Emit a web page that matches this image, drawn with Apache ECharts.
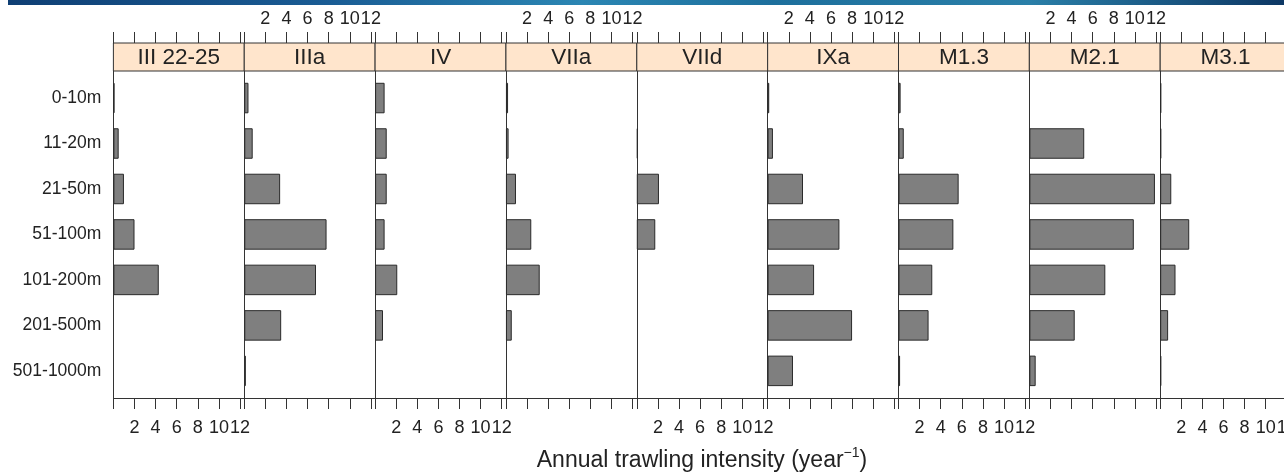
<!DOCTYPE html>
<html><head><meta charset="utf-8">
<script src="https://cdn.jsdelivr.net/npm/echarts@6/dist/echarts.min.js"></script>
<style>html,body{margin:0;padding:0;background:#fff}#c{width:1284px;height:474px}</style>
</head><body><div id="c"></div>
<script>
// ---- data ----
const depths = ['0-10m','11-20m','21-50m','51-100m','101-200m','201-500m','501-1000m'];
const regions = ['III 22-25','IIIa','IV','VIIa','VIId','IXa','M1.3','M2.1','M3.1'];
const tickLabels = [2,4,6,8,10,12];
const v_III2225 = [0.1,0.5,1.0,2.0,4.3,0,0];
const v_IIIa    = [0.4,0.8,3.4,7.8,6.8,3.5,0.15];
const v_IV      = [0.9,1.1,1.1,0.9,2.1,0.75,0];
const v_VIIa    = [0.2,0.25,0.95,2.4,3.2,0.55,0];
const v_VIId    = [0,0.1,2.1,1.75,0,0,0];
const v_IXa     = [0.15,0.5,3.35,6.8,4.4,8.0,2.4];
const v_M13     = [0.2,0.5,5.7,5.2,3.2,2.85,0.15];
const v_M21     = [0,5.2,11.9,9.9,7.2,4.3,0.6];
const v_M31     = [0.1,0.1,1.05,2.75,1.45,0.75,0.1];
const panelValues = [v_III2225,v_IIIa,v_IV,v_VIIa,v_VIId,v_IXa,v_M13,v_M21,v_M31];

// ---- layout ----
const FONT = '"Liberation Sans", Arial, Helvetica, sans-serif';
const L0 = 113.4, W = 130.85;
const stripTop = 43, frameTop = 71, frameBottom = 398;
const dataTop = 75.3, dataH = 318.3;
const XMAX = 12.4;
const lineCol = '#333333', textCol = '#222';

const grid = [], xAxis = [], yAxis = [], series = [], graphic = [];
const fmt = v => tickLabels.indexOf(v) >= 0 ? String(v) : '';

// blue header band
graphic.push({type:'rect', shape:{x:8,y:0,width:1276,height:5}, style:{
  fill: new echarts.graphic.LinearGradient(0,0,1,0,[
    {offset:0,color:'#0f3f74'},{offset:0.25,color:'#1a5c94'},{offset:0.45,color:'#2b86b3'},
    {offset:0.6,color:'#1d6f9c'},{offset:0.8,color:'#2a7fa8'},{offset:1,color:'#0d3764'}])}, z:10});

regions.forEach((name, i) => {
  const left = L0 + i*W;
  grid.push({left:left, width:W, top:frameTop, height:frameBottom-frameTop, containLabel:false, outerBoundsMode:'none'});
  grid.push({left:left, width:W, top:dataTop, height:dataH, containLabel:false, outerBoundsMode:'none'});
  const fg = 2*i, dg = 2*i+1;
  const bottomLabels = (i % 2 === 0), topLabels = (i % 2 === 1);
  xAxis.push({type:'value', gridIndex:fg, position:'bottom', min:0, max:XMAX, interval:2,
    axisLine:{show:true, lineStyle:{color:lineCol, width:1}},
    axisTick:{show:true, inside:false, length:11, lineStyle:{color:lineCol, width:1}},
    axisLabel:{show:bottomLabels, formatter:fmt, fontSize:18, fontFamily:FONT, color:textCol, margin:21,
      showMinLabel:true, showMaxLabel:true, hideOverlap:false},
    splitLine:{show:false}});
  xAxis.push({type:'value', gridIndex:fg, position:'top', offset:frameTop-stripTop, min:0, max:XMAX, interval:2,
    axisLine:{show:true, lineStyle:{color:lineCol, width:1}},
    axisTick:{show:true, inside:false, length:11, lineStyle:{color:lineCol, width:1}},
    axisLabel:{show:topLabels, formatter:fmt, fontSize:18, fontFamily:FONT, color:textCol, margin:15,
      showMinLabel:true, showMaxLabel:true, hideOverlap:false},
    splitLine:{show:false}});
  xAxis.push({type:'value', gridIndex:dg, min:0, max:XMAX, show:false, splitLine:{show:false}});
  yAxis.push({type:'value', gridIndex:fg, min:0, max:1, position:'left',
    axisLine:{show:true, lineStyle:{color:lineCol, width:1}},
    axisTick:{show:false}, axisLabel:{show:false}, splitLine:{show:false}});
  yAxis.push({type:'category', gridIndex:dg, data:depths, inverse:true, position:'left',
    axisLine:{show:false}, axisTick:{show:false}, splitLine:{show:false},
    axisLabel:{show:i===0, fontSize:17.5, fontFamily:FONT, color:textCol, margin:12}});
  series.push({type:'bar', name:name, xAxisIndex:3*i+2, yAxisIndex:dg, barWidth:30.5,
    data: panelValues[i].map(v => v === 0 ? '-' : v),
    itemStyle:{color:'#7f7f7f', borderColor:'#2a2a2a', borderWidth:1},
    silent:true, animation:false});
  graphic.push({type:'rect', shape:{x:left, y:stripTop, width:W, height:frameTop-stripTop},
    style:{fill:'#ffe5cc', stroke:lineCol, lineWidth:1}, z:5});
  graphic.push({type:'text', x:left+W/2, y:(stripTop+frameTop)/2+1, z:6,
    style:{text:name, font:'22.5px '+FONT, fill:textCol, textAlign:'center', textVerticalAlign:'middle'}});
});

// x title
graphic.push({type:'text', x:702, y:461, z:6, style:{
  text:'{m|Annual trawling intensity (year}{sup|−1}{m|)}', fill:textCol, font:'23px '+FONT,
  textAlign:'center', textVerticalAlign:'middle',
  rich:{
    m:{fontSize:23, fontFamily:FONT, fill:textCol, lineHeight:30},
    sup:{fontSize:14, fontFamily:FONT, fill:textCol, lineHeight:14, verticalAlign:'top'}}}});

const chart = echarts.init(document.getElementById('c'), null, {renderer:'canvas'});
chart.setOption({animation:false, backgroundColor:'#fff', grid, xAxis, yAxis, series, graphic});
</script></body></html>
